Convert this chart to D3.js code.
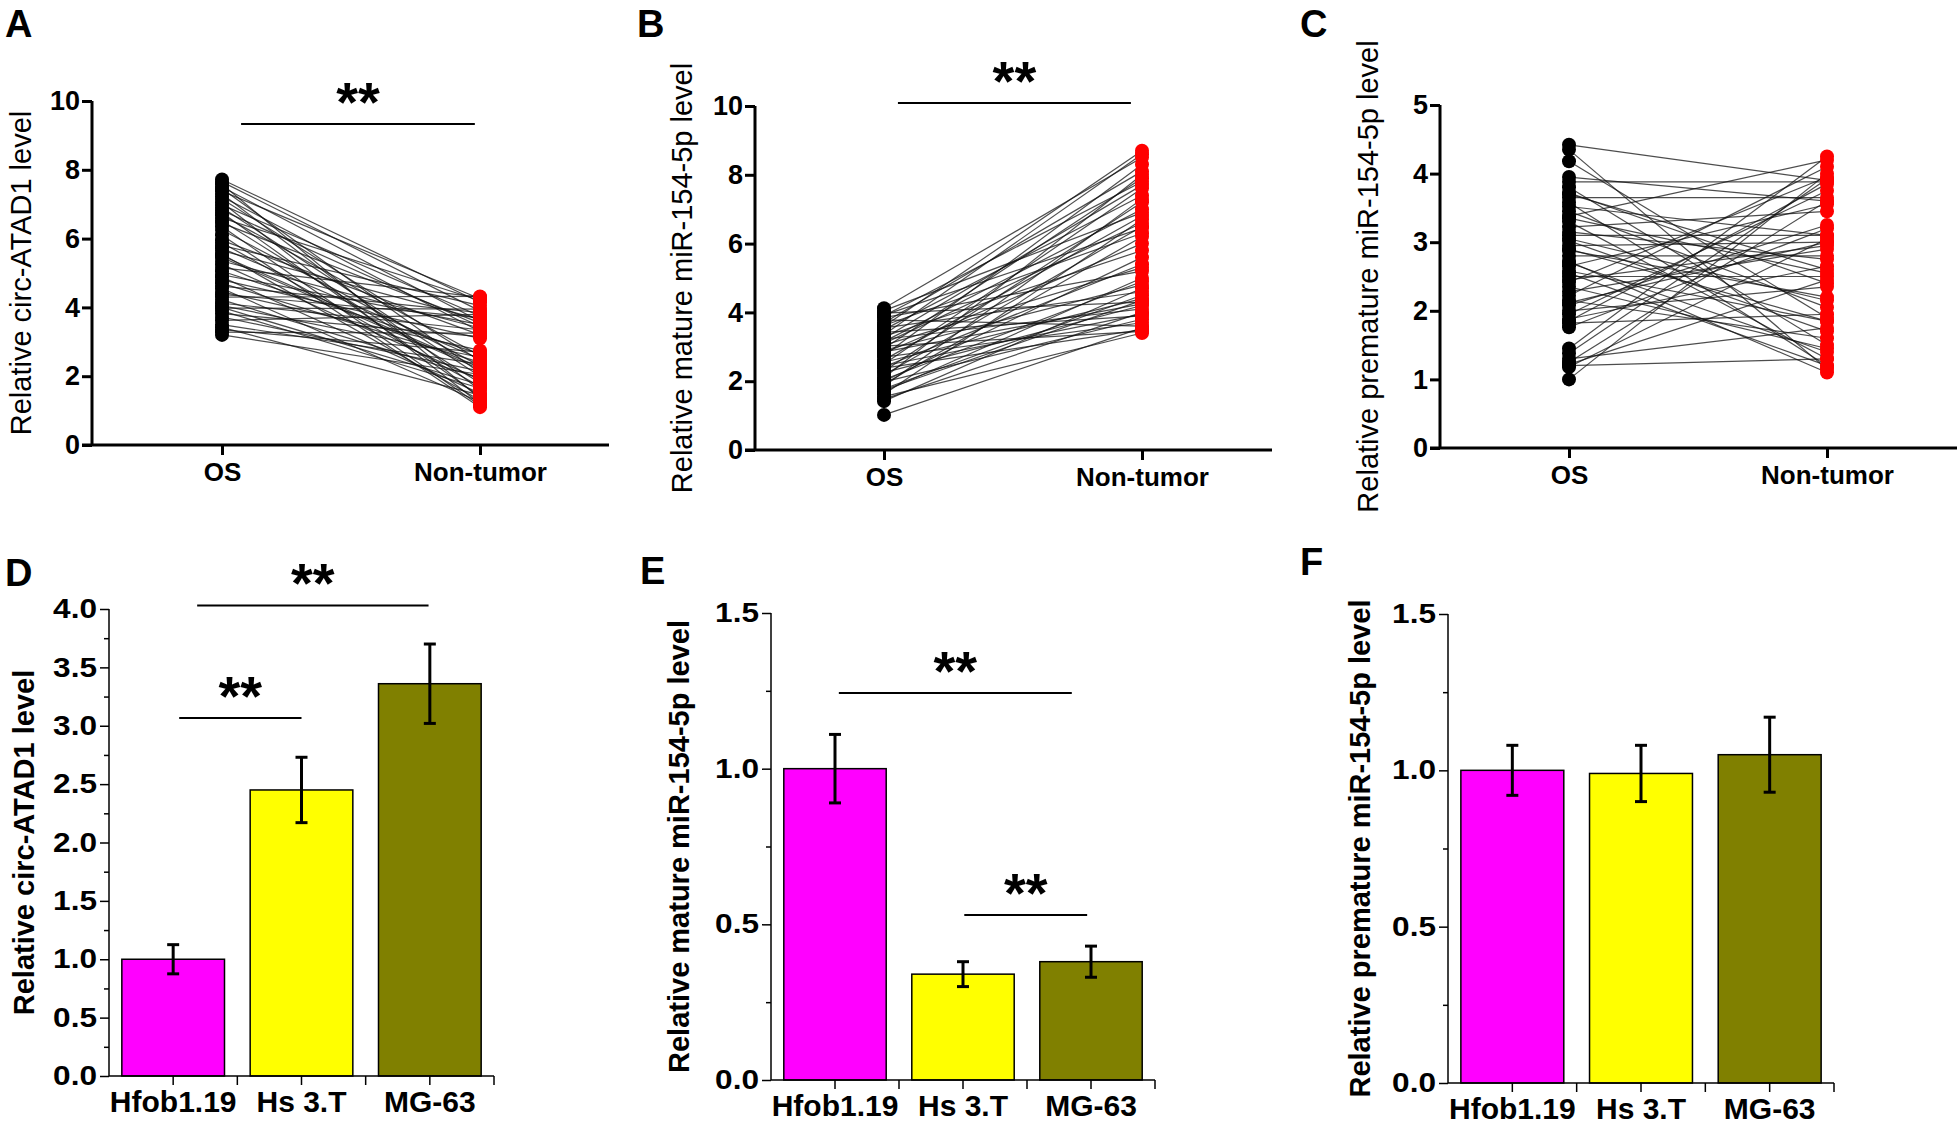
<!DOCTYPE html>
<html>
<head>
<meta charset="utf-8">
<script src="https://cdn.jsdelivr.net/npm/d3@7"></script>
<style>
  html, body { margin: 0; padding: 0; background: #fff; }
  svg { display: block; font-family: "Liberation Sans", Arial, sans-serif; }
</style>
</head>
<body>
<svg id="fig" width="1960" height="1124"></svg>
<script>
// ---------------- DATA ----------------
const groups = ["OS", "Non-tumor"];

// Panel A: circ-ATAD1 (paired OS / Non-tumor)
const circOS = [7.72, 7.65, 7.58, 7.5, 7.45, 7.38, 7.3, 7.22, 7.15, 7.05, 6.98, 6.9, 6.82, 6.75, 6.68, 6.6, 6.52, 6.45, 6.35, 6.25,
  5.95, 5.88, 5.8, 5.72, 5.65, 5.55, 5.45, 5.35, 5.25, 5.15, 5.05, 4.95, 4.88, 4.8, 4.7, 4.62, 4.55, 4.45, 4.38, 4.3,
  4.22, 4.12, 4.05, 3.98, 3.9, 3.82, 3.72, 3.62, 3.5, 3.42, 3.35, 3.28, 3.2, 6.1, 5.5, 4.0];
const circNT = [4.15, 3.9, 1.35, 3.6, 2.1, 4.25, 1.6, 3.3, 2.45, 1.2, 3.75, 2.0, 3.45, 1.4, 2.6, 4.2, 1.8, 3.55, 1.15, 2.3,
  3.2, 1.7, 4.05, 2.5, 3.65, 1.3, 2.2, 3.4, 1.9, 4.3, 2.65, 3.5, 1.5, 3.1, 2.4, 3.85, 1.25, 2.75, 3.7, 4.32,
  1.95, 3.35, 2.55, 3.95, 1.65, 3.15, 2.15, 3.8, 2.35, 1.45, 2.7, 3.25, 2.05, 1.1, 2.25, 1.75];

// Panel B: mature miR-154-5p
const matureOS = [4.12, 4.05, 3.98, 3.9, 3.85, 3.78, 3.7, 3.62, 3.55, 3.5, 3.42, 3.35, 3.3, 3.22, 3.15, 3.1, 3.02, 2.95, 2.9, 2.82,
  2.75, 2.7, 2.62, 2.55, 2.5, 2.42, 2.38, 2.3, 2.25, 2.18, 2.1, 2.05, 1.98, 1.92, 1.85, 1.78, 1.7, 1.62, 1.55, 1.48,
  1.42, 1.02, 3.6, 2.85, 3.25, 2.45, 3.92, 2.0, 1.75, 3.05];
const matureNT = [8.5, 6.9, 4.3, 7.8, 5.2, 3.6, 8.1, 6.3, 4.6, 7.4, 3.9, 8.6, 5.8, 4.1, 7.0, 6.6, 3.45, 7.9, 4.8, 6.0,
  8.3, 3.7, 6.8, 4.4, 7.6, 5.4, 3.5, 7.2, 4.2, 6.5, 8.0, 4.9, 3.8, 6.2, 7.3, 4.5, 5.0, 6.7, 3.4, 4.0,
  4.7, 3.55, 8.7, 4.25, 7.7, 3.95, 6.45, 5.6, 4.35, 5.3];

// Panel C: premature miR-154-5p
const preOS = [4.42, 4.35, 4.18, 3.95, 3.88, 3.8, 3.72, 3.65, 3.58, 3.52, 3.45, 3.38, 3.3, 3.22, 3.15, 3.1, 3.02, 2.95, 2.88, 2.8,
  2.72, 2.65, 2.58, 2.5, 2.42, 2.35, 2.28, 2.22, 2.15, 2.08, 2.0, 1.95, 1.88, 1.82, 1.76, 1.45, 1.38, 1.3, 1.25, 1.2,
  1.18, 1.0, 2.7, 3.35, 2.55, 1.85, 3.05, 2.45, 2.12, 1.22, 3.7, 2.9];
const preNT = [3.9, 1.15, 1.9, 3.6, 3.88, 1.5, 2.4, 3.65, 1.2, 3.1, 2.05, 4.2, 1.3, 3.45, 2.75, 3.1, 1.7, 3.0, 2.2, 2.8,
  1.1, 3.55, 1.85, 2.5, 3.95, 1.45, 2.9, 4.1, 1.6, 3.25, 2.35, 3.75, 2.65, 1.95, 3.2, 4.25, 3.92, 1.75, 3.6, 1.3,
  3.05, 4.0, 1.4, 2.55, 1.2, 3.85, 2.15, 2.95, 3.0, 2.45, 2.6, 1.85];

// Panels D-F: cell lines
const cellLines = ["Hfob1.19", "Hs 3.T", "MG-63"];
const circMean = [1.0, 2.45, 3.36];
const circErr = [0.125, 0.28, 0.34];
const matureMean = [1.0, 0.34, 0.38];
const matureErr = [0.11, 0.04, 0.05];
const preMean = [1.0, 0.99, 1.05];
const preErr = [0.08, 0.09, 0.12];
const barColors = ["#ff00ff", "#ffff00", "#808000"];

// tick labels
const ticksA = [0, 2, 4, 6, 8, 10];
const ticksC = [0, 1, 2, 3, 4, 5];
const ticksD = [0, 0.5, 1.0, 1.5, 2.0, 2.5, 3.0, 3.5, 4.0];
const minorD = [0.25, 0.75, 1.25, 1.75, 2.25, 2.75, 3.25, 3.75];
const ticksE = [0, 0.5, 1.0, 1.5];
const minorE = [0.25, 0.75, 1.25];

// ---------------- LAYOUT ----------------
const FONT = '"Liberation Sans", Arial, sans-serif';
const svg = d3.select("#fig");

const pairedPanels = [
  { letter: "A", lx: 5, ly: 37, x0: 92, x1: 609, yTop: 101, yBot: 445, cx: [222, 480], max: 10, ticks: ticksA, os: circOS, nt: circNT,
    ylab: "Relative circ-ATAD1 level", labX: 31, sig: { a: 0.074, b: -0.02, v: 9.33 } },
  { letter: "B", lx: 637, ly: 37, x0: 755, x1: 1272, yTop: 106, yBot: 450, cx: [884, 1142], max: 10, ticks: ticksA, os: matureOS, nt: matureNT,
    ylab: "Relative mature miR-154-5p level", labX: 692, sig: { a: 0.054, b: -0.043, v: 10.09 } },
  { letter: "C", lx: 1300, ly: 37, x0: 1440, x1: 1957, yTop: 105, yBot: 448, cx: [1569, 1827], max: 5, ticks: ticksC, os: preOS, nt: preNT,
    ylab: "Relative premature miR-154-5p level", labX: 1378, sig: null }
];

pairedPanels.forEach(p => {
  const g = svg.append("g");
  const x = d3.scalePoint().domain(groups).range(p.cx);
  const y = d3.scaleLinear().domain([0, p.max]).range([p.yBot, p.yTop]);

  g.append("text").attr("x", p.lx).attr("y", p.ly).attr("font-size", 38).attr("font-weight", "bold").text(p.letter);

  const yAxis = d3.axisLeft(y).tickValues(p.ticks).tickFormat(d3.format("d")).tickSize(10).tickPadding(2);
  const ya = g.append("g").attr("transform", `translate(${p.x0},0)`).call(yAxis);
  ya.select(".domain").attr("stroke-width", 3).attr("d", `M0,${p.yTop}V${p.yBot}`);
  ya.selectAll(".tick line").attr("stroke-width", 3);
  ya.selectAll(".tick text").attr("font-size", 27).attr("font-weight", "bold").attr("font-family", FONT).attr("fill", "#000");

  const xAxis = d3.axisBottom(x).tickSize(10).tickPadding(8);
  const xa = g.append("g").attr("transform", `translate(0,${p.yBot})`).call(xAxis);
  xa.select(".domain").attr("stroke-width", 3).attr("d", `M${p.x0 - 10},0H${p.x1}`);
  xa.selectAll(".tick line").attr("stroke-width", 3);
  xa.selectAll(".tick text").attr("font-size", 26).attr("font-weight", "bold").attr("font-family", FONT).attr("fill", "#000");

  g.append("text").attr("transform", `translate(${p.labX},${(p.yTop + p.yBot) / 2}) rotate(-90)`)
    .attr("text-anchor", "middle").attr("font-size", 29).text(p.ylab);

  const pairs = p.os.map((v, i) => [v, p.nt[i]]);
  g.append("g").selectAll("line").data(pairs).join("line")
    .attr("x1", x("OS")).attr("x2", x("Non-tumor"))
    .attr("y1", d => y(d[0])).attr("y2", d => y(d[1]))
    .attr("stroke", "#111").attr("stroke-width", 1.2).attr("stroke-opacity", 0.75);
  g.append("g").selectAll("circle").data(p.os).join("circle")
    .attr("cx", x("OS")).attr("cy", d => y(d)).attr("r", 7).attr("fill", "#000");
  g.append("g").selectAll("circle").data(p.nt).join("circle")
    .attr("cx", x("Non-tumor")).attr("cy", d => y(d)).attr("r", 7).attr("fill", "#ff0000");

  if (p.sig) {
    const span = p.cx[1] - p.cx[0];
    const xa1 = x("OS") + p.sig.a * span, xb1 = x("Non-tumor") + p.sig.b * span;
    const yy = y(p.sig.v);
    g.append("line").attr("x1", xa1).attr("x2", xb1).attr("y1", yy).attr("y2", yy).attr("stroke", "#000").attr("stroke-width", 2);
    g.append("text").attr("x", (xa1 + xb1) / 2).attr("y", yy - 3).attr("text-anchor", "middle")
      .attr("font-size", 56).attr("font-weight", "bold").text("**");
  }
});

const barPanels = [
  { letter: "D", lx: 5, ly: 586, x0: 109, x1: 494, yTop: 609, yBot: 1076, max: 4, ticks: ticksD, minor: minorD, mean: circMean, err: circErr,
    ylab: "Relative circ-ATAD1 level", labX: 34,
    sigs: [ { a: "Hfob1.19", ao: 0.187, b: "MG-63", bo: -0.01, v: 4.03 }, { a: "Hfob1.19", ao: 0.047, b: "Hs 3.T", bo: 0.0, v: 3.066 } ] },
  { letter: "E", lx: 640, ly: 584, x0: 771, x1: 1155, yTop: 613, yBot: 1080, max: 1.5, ticks: ticksE, minor: minorE, mean: matureMean, err: matureErr,
    ylab: "Relative mature miR-154-5p level", labX: 689,
    sigs: [ { a: "Hfob1.19", ao: 0.03, b: "MG-63", bo: -0.15, v: 1.243 }, { a: "Hs 3.T", ao: 0.01, b: "MG-63", bo: -0.03, v: 0.53 } ] },
  { letter: "F", lx: 1300, ly: 575, x0: 1448, x1: 1834, yTop: 614, yBot: 1083, max: 1.5, ticks: ticksE, minor: minorE, mean: preMean, err: preErr,
    ylab: "Relative premature miR-154-5p level", labX: 1370, sigs: [] }
];

const STRETCH = 1.17;

barPanels.forEach(p => {
  const g = svg.append("g");
  const x = d3.scaleBand().domain(cellLines).range([p.x0, p.x1]).paddingInner(0.2).paddingOuter(0.1);
  const y = d3.scaleLinear().domain([0, p.max]).range([p.yBot, p.yTop]);
  const step = x.step();

  g.append("text").attr("x", p.lx).attr("y", p.ly).attr("font-size", 38).attr("font-weight", "bold").text(p.letter);

  const rows = cellLines.map((c, i) => ({ c, m: p.mean[i], e: p.err[i], col: barColors[i] }));
  g.append("g").selectAll("rect").data(rows).join("rect")
    .attr("x", d => x(d.c)).attr("width", x.bandwidth())
    .attr("y", d => y(d.m)).attr("height", d => y(0) - y(d.m))
    .attr("fill", d => d.col).attr("stroke", "#000").attr("stroke-width", 1.5);

  const eg = g.append("g").attr("stroke", "#000").attr("stroke-width", 3);
  rows.forEach(d => {
    const cx = x(d.c) + x.bandwidth() / 2;
    eg.append("line").attr("x1", cx).attr("x2", cx).attr("y1", y(d.m - d.e)).attr("y2", y(d.m + d.e));
    eg.append("line").attr("x1", cx - 6).attr("x2", cx + 6).attr("y1", y(d.m + d.e)).attr("y2", y(d.m + d.e));
    eg.append("line").attr("x1", cx - 6).attr("x2", cx + 6).attr("y1", y(d.m - d.e)).attr("y2", y(d.m - d.e));
  });

  const yAxis = d3.axisLeft(y).tickValues(p.ticks).tickFormat(d3.format(".1f")).tickSize(9).tickPadding(2);
  const ya = g.append("g").attr("transform", `translate(${p.x0},0)`).call(yAxis);
  ya.select(".domain").attr("stroke-width", 1.5).attr("d", `M0,${p.yTop}V${p.yBot}`);
  ya.selectAll(".tick line").attr("stroke-width", 1.5);
  ya.selectAll(".tick text").attr("font-size", 27).attr("font-weight", "bold").attr("font-family", FONT).attr("fill", "#000")
    .attr("x", -12 / STRETCH).attr("transform", `scale(${STRETCH},1)`);
  const ym = g.append("g").attr("transform", `translate(${p.x0},0)`)
    .call(d3.axisLeft(y).tickValues(p.minor).tickSize(5).tickFormat(""));
  ym.select(".domain").remove();
  ym.selectAll(".tick line").attr("stroke-width", 1.5);

  const xAxis = d3.axisBottom(x).tickSize(9).tickPadding(6);
  const xa = g.append("g").attr("transform", `translate(0,${p.yBot})`).call(xAxis);
  xa.select(".domain").attr("stroke-width", 1.5).attr("d", `M${p.x0},0H${p.x1}`);
  xa.selectAll(".tick line").attr("stroke-width", 1.5);
  xa.selectAll(".tick text").attr("font-size", 30).attr("font-weight", "bold").attr("font-family", FONT).attr("fill", "#000");
  const bounds = cellLines.slice(1).map(c => x(c) - step * 0.1).concat([p.x1]);
  g.append("g").selectAll("line").data(bounds).join("line")
    .attr("x1", d => d).attr("x2", d => d).attr("y1", p.yBot).attr("y2", p.yBot + 9)
    .attr("stroke", "#000").attr("stroke-width", 1.5);

  g.append("text").attr("transform", `translate(${p.labX},${(p.yTop + p.yBot) / 2}) rotate(-90)`)
    .attr("text-anchor", "middle").attr("font-size", 29).attr("font-weight", "bold").text(p.ylab);

  p.sigs.forEach(s => {
    const xa1 = x(s.a) + x.bandwidth() / 2 + s.ao * step;
    const xb1 = x(s.b) + x.bandwidth() / 2 + s.bo * step;
    const yy = y(s.v);
    g.append("line").attr("x1", xa1).attr("x2", xb1).attr("y1", yy).attr("y2", yy).attr("stroke", "#000").attr("stroke-width", 2);
    g.append("text").attr("x", (xa1 + xb1) / 2).attr("y", yy - 3).attr("text-anchor", "middle")
      .attr("font-size", 56).attr("font-weight", "bold").text("**");
  });
});
</script>
</body>
</html>
